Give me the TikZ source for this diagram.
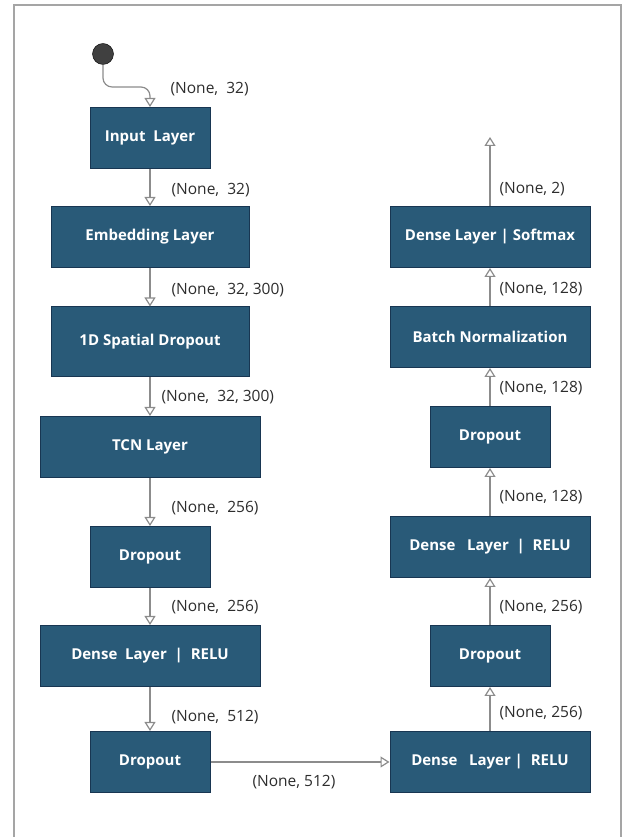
\documentclass[tikz,border=0pt]{standalone}
\usepackage{fontspec}
\setmainfont{Open Sans}
\usetikzlibrary{arrows.meta}
\definecolor{layercolor}{RGB}{41,90,120}
\definecolor{layerborder}{RGB}{24,54,82}
\definecolor{wirecolor}{RGB}{140,140,140}
\definecolor{dimcolor}{RGB}{45,45,45}
\definecolor{framecolor}{RGB}{165,165,165}

\begin{document}
\begin{tikzpicture}[x=1pt, y=1pt,
	block/.style={
		rectangle,
		draw=layerborder,
		line width=1pt,
		fill=layercolor,
		minimum width=120pt,
		minimum height=61pt,
		inner sep=0pt,
		text=white,
		font=\fontsize{15}{18}\selectfont\bfseries},
	wideblock/.style={
		block,
		minimum width=200pt},
	dims/.style={
		inner sep=0pt,
		text=dimcolor,
		font=\fontsize{15.5}{18}\selectfont},
	line/.style={
		draw=wirecolor,
		line width=1.2pt,
		-{Triangle[open, length=9pt, width=11pt]}}]

    \useasboundingbox (0,0) rectangle (624,837);
    \draw[framecolor, line width=1.6pt] (14,-10) |- (621,832) -- (621,-10);

    % Place nodes
    \node [circle, draw=black, fill=black!75, minimum size=21pt, inner sep=0pt] (start) at (103,783) {};
    \coordinate (bend) at (150,750);
    \node [block] (input) at (150,699) {Input\ \ Layer};
    \node [wideblock, minimum width=198pt, below of=input, node distance=99pt] (embed) {Embedding Layer};
    \node [wideblock, minimum width=198pt, minimum height=70pt, below of=embed, node distance=105pt] (spatial) {1D Spatial Dropout};
    \node [wideblock, minimum width=220pt, below of=spatial, node distance=105pt] (tcn) {TCN Layer};
    \node [block, below of=tcn, node distance=110pt] (dropa) {Dropout};
    \node [wideblock, minimum width=220pt, below of=dropa, node distance=99pt] (densea) {Dense\ \ Layer\ \ |\ \ RELU};
    \node [block, below of=densea, node distance=106pt] (dropb) {Dropout};
    \node [wideblock, right of=dropb, node distance=340pt] (denseb) {Dense\ \ \ Layer\ |\ \ RELU};
    \node [block, above of=denseb, node distance=106pt] (dropc) {Dropout};
    \node [wideblock, above of=dropc, node distance=109pt] (densec) {Dense\ \ \ Layer\ \ |\ \ RELU};
    \node [block, above of=densec, node distance=110pt] (dropd) {Dropout};
    \node [wideblock, above of=dropd, node distance=100pt] (norm) {Batch Normalization};
    \node [wideblock, above of=norm, node distance=100pt] (softmax) {Dense Layer | Softmax};
    \coordinate [above of=softmax, node distance=100pt] (output);
    % Draw edges
    \path [line, rounded corners=9pt] (start.south) |- (bend) -- node[dims, right, pos=0.1, xshift=20pt] {(None,\ \ 32)} (input.north);
    \path [line] (input) -- node[dims, right, pos=0.57, xshift=21pt] {(None,\ \ 32)} (embed);
    \path [line] (embed) -- node[dims, right, pos=0.57, xshift=21pt] {(None,\ \ 32, 300)} (spatial);
    \path [line] (spatial) -- node[dims, right, pos=0.52, xshift=11pt] {(None,\ \ 32, 300)} (tcn);
    \path [line] (tcn) -- node[dims, right, pos=0.62, xshift=21pt] {(None,\ \ 256)} (dropa);
    \path [line] (dropa) -- node[dims, right, pos=0.51, xshift=21pt] {(None,\ \ 256)} (densea);
    \path [line] (densea) -- node[dims, right, pos=0.68, xshift=21pt] {(None,\ \ 512)} (dropb);
    \path [line] (dropb) -- node[dims, below, yshift=-13pt, xshift=-6pt] {(None, 512)} (denseb);
    \path [line] (denseb) -- node[dims, right, pos=0.41, xshift=9pt] {(None, 256)} (dropc);
    \path [line] (dropc) -- node[dims, right, pos=0.37, xshift=9pt] {(None, 256)} (densec);
    \path [line] (densec) -- node[dims, right, pos=0.39, xshift=9pt] {(None, 128)} (dropd);
    \path [line] (dropd) -- node[dims, right, pos=0.47, xshift=9pt] {(None, 128)} (norm);
    \path [line] (norm) -- node[dims, right, pos=0.45, xshift=9pt] {(None, 128)} (softmax);
    \path [line] (softmax) -- node[dims, right, pos=0.24, xshift=9pt] {(None, 2)} (output);
\end{tikzpicture}
\end{document}
